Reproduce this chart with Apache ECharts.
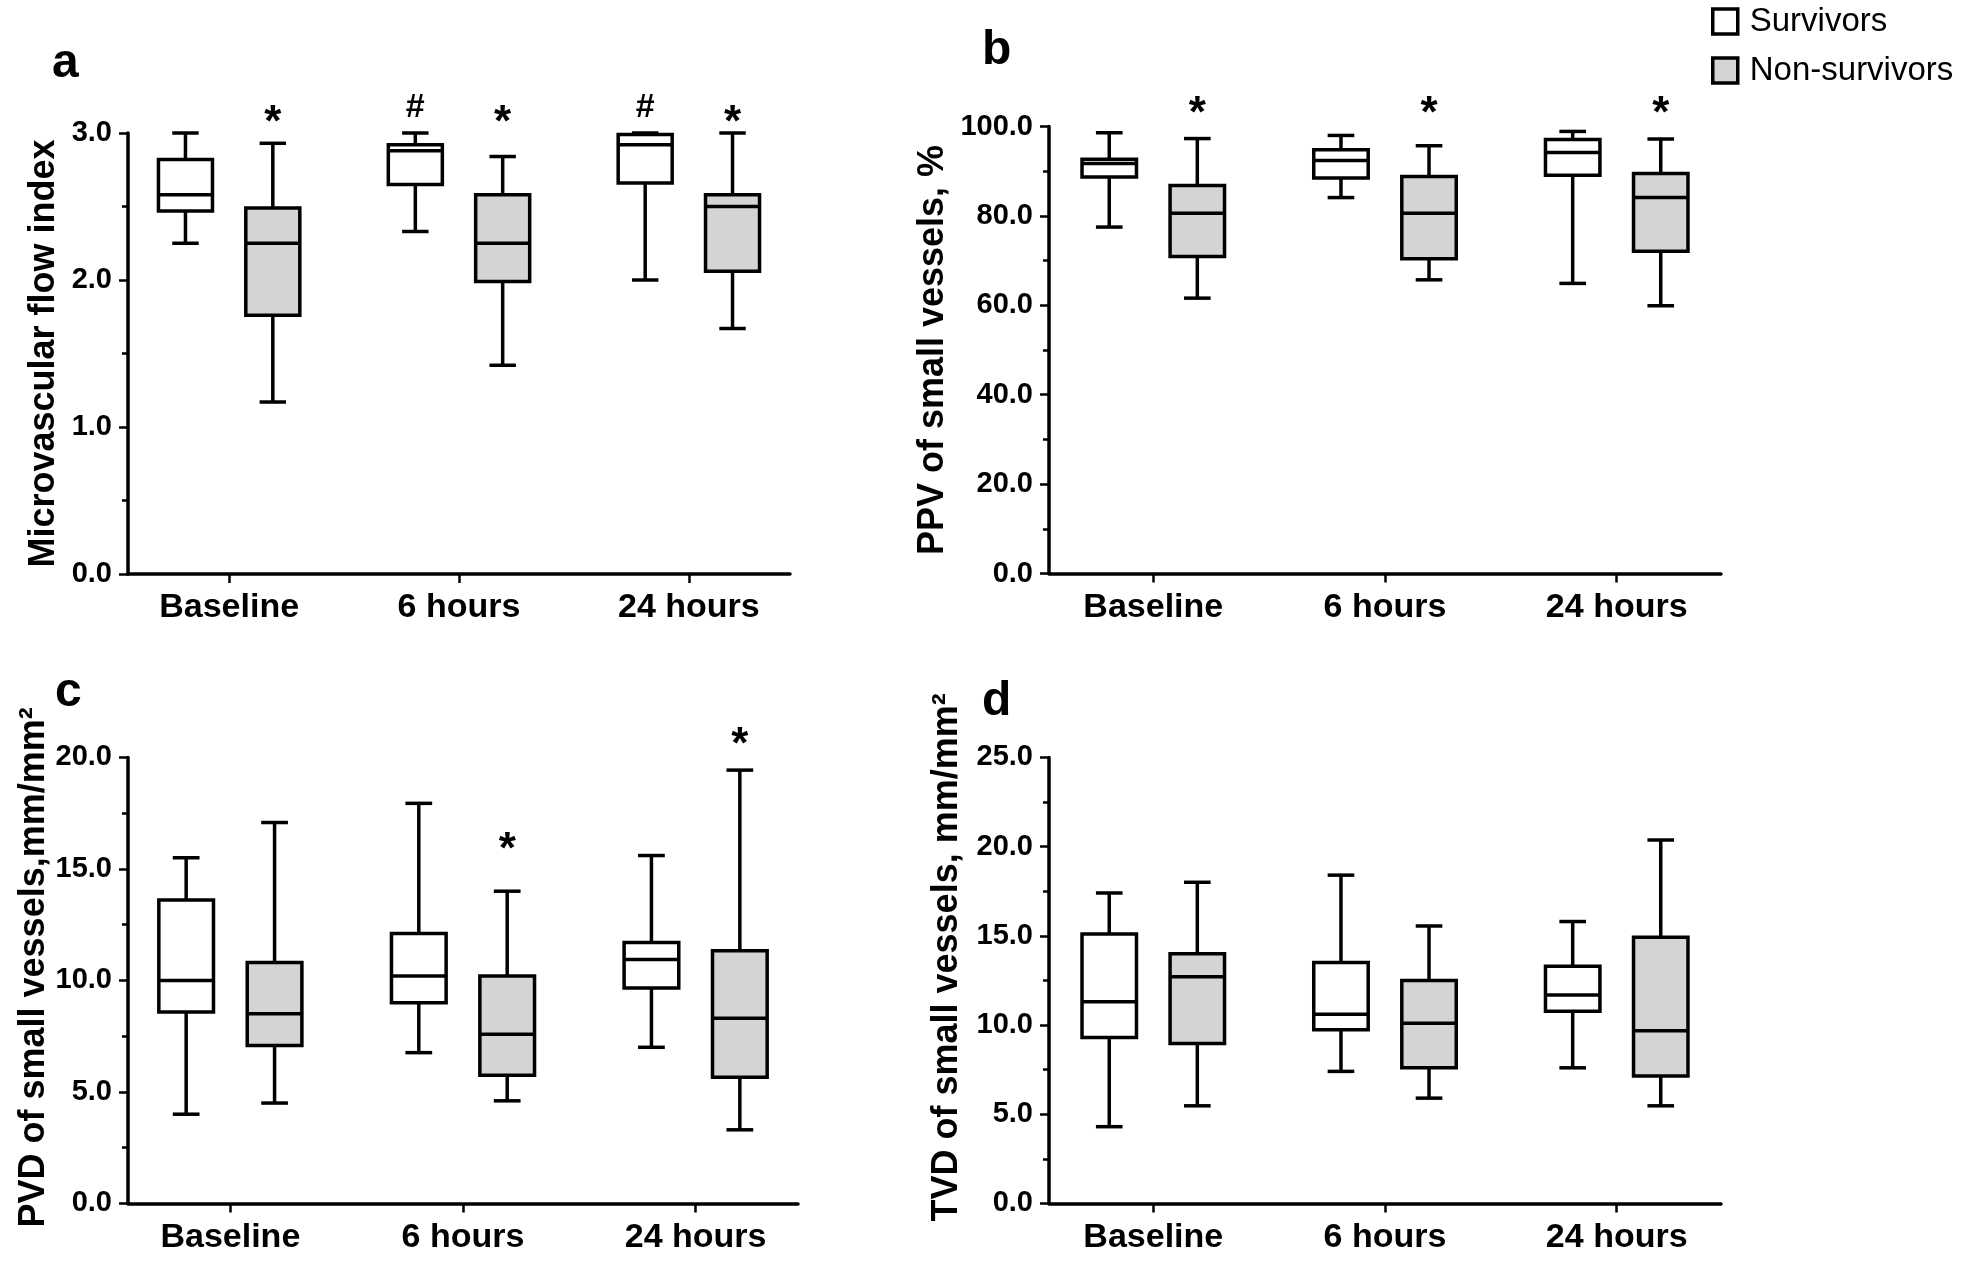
<!DOCTYPE html>
<html>
<head>
<meta charset="utf-8">
<script src="https://cdn.jsdelivr.net/npm/echarts@6/dist/echarts.min.js"></script>
<style>
html,body{margin:0;padding:0;background:#fff;}
#chart{width:1961px;height:1262px;}
</style>
</head>
<body>
<div id="chart"></div>
<script>
// ---------- data ----------
const categories = ['Baseline', '6 hours', '24 hours'];
const seriesNames = ['Survivors', 'Non-survivors'];
// each row: [min, Q1, median, Q3, max]
const mfiSurvivors    = [[2.25, 2.47, 2.58, 2.82, 3.00], [2.33, 2.65, 2.88, 2.92, 3.00], [2.00, 2.66, 2.92, 2.99, 3.00]];
const mfiNonSurvivors = [[1.17, 1.76, 2.25, 2.49, 2.93], [1.42, 1.99, 2.25, 2.58, 2.84], [1.67, 2.06, 2.50, 2.58, 3.00]];
const ppvSurvivors    = [[77.5, 88.7, 91.7, 92.7, 98.6], [84.1, 88.5, 92.4, 94.8, 98.0], [64.9, 89.1, 94.2, 97.1, 98.9]];
const ppvNonSurvivors = [[61.6, 70.9, 80.6, 86.8, 97.3], [65.7, 70.4, 80.6, 88.8, 95.7], [59.9, 72.1, 84.1, 89.5, 97.2]];
const pvdSurvivors    = [[4.0, 8.58, 10.0, 13.6, 15.5], [6.76, 9.0, 10.2, 12.1, 17.94], [7.0, 9.66, 10.94, 11.7, 15.6]];
const pvdNonSurvivors = [[4.5, 7.08, 8.5, 10.8, 17.08], [4.6, 5.75, 7.58, 10.2, 14.0], [3.3, 5.66, 8.3, 11.33, 19.43]];
const tvdSurvivors    = [[4.3, 9.3, 11.3, 15.1, 17.4], [7.4, 9.74, 10.6, 13.5, 18.4], [7.6, 10.77, 11.68, 13.3, 15.8]];
const tvdNonSurvivors = [[5.47, 8.96, 12.7, 14.0, 18.0], [5.9, 7.6, 10.1, 12.5, 15.55], [5.47, 7.14, 9.68, 14.92, 20.37]];
// significance marks: [category index, group (0 survivors / 1 non-survivors), symbol, y value]
const mfiMarks = [[0, 1, '*', 3.06], [1, 0, '#', 3.17], [1, 1, '*', 3.06], [2, 0, '#', 3.17], [2, 1, '*', 3.06]];
const ppvMarks = [[0, 1, '*', 102.6], [1, 1, '*', 102.6], [2, 1, '*', 102.6]];
const pvdMarks = [[1, 1, '*', 15.8], [2, 1, '*', 20.5]];
const tvdMarks = [];
// axis settings
const yMax = [3, 100, 20, 25];
const yInterval = [1, 20, 5, 5];
const yTitles = ['Microvascular flow index', 'PPV of small vessels, %', 'PVD of small vessels,mm/mm\u00b2', 'TVD of small vessels, mm/mm\u00b2'];
const panelLetters = ['a', 'b', 'c', 'd'];

// ---------- layout / style ----------
const FONT = '"Liberation Sans", Arial, Helvetica, sans-serif';
const LW = 3.5;
const GROUP_OFFSET = 0.19;
const BOX_W = 0.235;
const CAP_W = 0.115;
const fills = ['#ffffff', '#d4d4d4'];

const grids = [
  {left: 128, top: 133, width: 662, height: 441},
  {left: 1049, top: 126.5, width: 672, height: 447},
  {left: 128, top: 757.4, width: 670, height: 446},
  {left: 1049, top: 757.4, width: 672, height: 446}
];
const xRanges = [[-0.44, 2.44], [-0.45, 2.45], [-0.44, 2.44], [-0.45, 2.45]];
const nameGaps = [66, 98, 66, 84];
const namePads = [[0,0,0,0], [0,0,0,0], [0,0,0,26], [0,0,0,46]];

const panels = [
  [mfiSurvivors, mfiNonSurvivors, mfiMarks],
  [ppvSurvivors, ppvNonSurvivors, ppvMarks],
  [pvdSurvivors, pvdNonSurvivors, pvdMarks],
  [tvdSurvivors, tvdNonSurvivors, tvdMarks]
];

function boxRenderer(group) {
  const offset = group === 0 ? -GROUP_OFFSET : GROUP_OFFSET;
  const fill = fills[group];
  return function (params, api) {
    const x = api.value(0) + offset;
    const pMin = api.coord([x, api.value(1)]);
    const pQ1 = api.coord([x, api.value(2)]);
    const pMed = api.coord([x, api.value(3)]);
    const pQ3 = api.coord([x, api.value(4)]);
    const pMax = api.coord([x, api.value(5)]);
    const bw = api.size([BOX_W, 0])[0];
    const cw = api.size([CAP_W, 0])[0];
    const cx = pMed[0];
    const ls = {stroke: '#000', lineWidth: LW, lineCap: 'butt'};
    return {
      type: 'group',
      children: [
        {type: 'line', shape: {x1: cx, y1: pMax[1], x2: cx, y2: pQ3[1]}, style: ls},
        {type: 'line', shape: {x1: cx, y1: pMin[1], x2: cx, y2: pQ1[1]}, style: ls},
        {type: 'line', shape: {x1: cx - cw / 2, y1: pMax[1], x2: cx + cw / 2, y2: pMax[1]}, style: ls},
        {type: 'line', shape: {x1: cx - cw / 2, y1: pMin[1], x2: cx + cw / 2, y2: pMin[1]}, style: ls},
        {type: 'rect', shape: {x: cx - bw / 2, y: pQ3[1], width: bw, height: pQ1[1] - pQ3[1]},
         style: {fill: fill, stroke: '#000', lineWidth: LW, lineJoin: 'miter'}},
        {type: 'line', shape: {x1: cx - bw / 2, y1: pMed[1], x2: cx + bw / 2, y2: pMed[1]}, style: ls}
      ]
    };
  };
}

const marksText = {};
function markRenderer(params, api) {
  const grp = api.value(1);
  const x = api.value(0) + (grp === 0 ? -GROUP_OFFSET : GROUP_OFFSET);
  const p = api.coord([x, api.value(3)]);
  const t = marksText[params.seriesIndex][params.dataIndex];
  return {
    type: 'text',
    style: {
      text: t,
      x: p[0], y: p[1],
      align: 'center', verticalAlign: 'middle',
      font: 'bold ' + (t === '*' ? 44 : 34) + 'px ' + FONT, fill: '#000'
    }
  };
}

const xAxes = [], yAxes = [], series = [], graphics = [];
panels.forEach((pn, i) => {
  xAxes.push({
    type: 'value', gridIndex: i, min: xRanges[i][0], max: xRanges[i][1],
    axisLine: {show: true, onZero: false, lineStyle: {color: '#000', width: LW}},
    axisTick: {show: true, customValues: [0, 1, 2], length: 9, lineStyle: {color: '#000', width: 2.5}},
    axisLabel: {show: true, customValues: [0, 1, 2], margin: 17,
      formatter: v => categories[Math.round(v)] || '',
      color: '#000', fontFamily: FONT, fontWeight: 'bold', fontSize: 34},
    splitLine: {show: false}
  });
  yAxes.push({
    type: 'value', gridIndex: i, min: 0, max: yMax[i], interval: yInterval[i],
    name: yTitles[i], nameLocation: 'middle', nameGap: nameGaps[i],
    nameTextStyle: {color: '#000', fontFamily: FONT, fontWeight: 'bold', fontSize: 36, padding: namePads[i]},
    axisLine: {show: true, onZero: false, lineStyle: {color: '#000', width: LW}},
    axisTick: {show: true, length: 9, lineStyle: {color: '#000', width: 2.5}},
    minorTick: {show: true, splitNumber: 2, length: 6, lineStyle: {color: '#000', width: 2.5}},
    axisLabel: {margin: 16, formatter: v => v.toFixed(1), color: '#000',
      fontFamily: FONT, fontWeight: 'bold', fontSize: 29},
    splitLine: {show: false}, minorSplitLine: {show: false}
  });
  [0, 1].forEach(g => {
    series.push({
      type: 'custom', name: seriesNames[g], xAxisIndex: i, yAxisIndex: i,
      renderItem: boxRenderer(g),
      itemStyle: {color: fills[g], borderColor: '#000'},
      encode: {x: 0, y: [1, 2, 3, 4, 5]},
      data: pn[g].map((r, ci) => [ci].concat(r)),
      silent: true
    });
  });
  if (pn[2].length) {
    const idx = series.length;
    marksText[idx] = pn[2].map(m => m[2]);
    series.push({
      type: 'custom', name: 'marks' + i, xAxisIndex: i, yAxisIndex: i,
      renderItem: markRenderer,
      encode: {x: 0, y: 3},
      data: pn[2].map(m => [m[0], m[1], 0, m[3]]),
      silent: true
    });
  }
});

const letterPos = [[65, 83], [995, 70], [68, 712], [995, 721]];
panelLetters.forEach((l, i) => {
  graphics.push({
    type: 'text', left: letterPos[i][0] - 13, top: letterPos[i][1] - 43,
    style: {text: l, font: 'bold 48px ' + FONT, fill: '#000'}
  });
});

const chart = echarts.init(document.getElementById('chart'), null, {renderer: 'canvas'});
chart.setOption({
  animation: false,
  backgroundColor: '#fff',
  grid: grids,
  xAxis: xAxes,
  yAxis: yAxes,
  series: series,
  graphic: graphics,
  legend: {
    orient: 'vertical', left: 1706, top: 0, itemWidth: 25, itemHeight: 25, itemGap: 16,
    icon: 'rect',
    textStyle: {color: '#000', fontFamily: FONT, fontSize: 33, padding: [0, 0, 0, 7]},
    data: [
      {name: 'Survivors', itemStyle: {color: '#ffffff', borderColor: '#000', borderWidth: 3.5}},
      {name: 'Non-survivors', itemStyle: {color: '#d4d4d4', borderColor: '#000', borderWidth: 3.5}}
    ],
    selectedMode: false
  }
});
</script>
</body>
</html>
